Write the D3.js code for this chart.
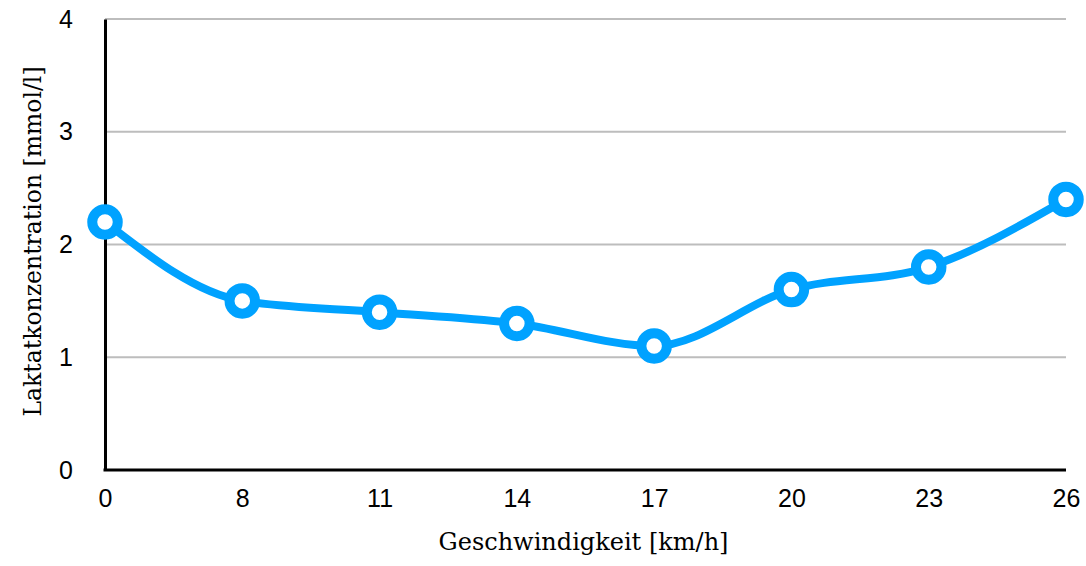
<!DOCTYPE html>
<html>
<head>
<meta charset="utf-8">
<script src="https://cdn.jsdelivr.net/npm/d3@7"></script>
<style>
  html, body { margin: 0; padding: 0; background: #fff; }
  svg { display: block; }
</style>
</head>
<body>
<svg id="chart" width="1086" height="566"></svg>
<script>
// Lactate concentration by running speed
const speeds = ["0", "8", "11", "14", "17", "20", "23", "26"];
const lactate = [2.2, 1.5, 1.4, 1.3, 1.1, 1.6, 1.8, 2.4];
const yTicks = [0, 1, 2, 3, 4];
const xTitle = "Geschwindigkeit [km/h]";
const yTitle = "Laktatkonzentration [mmol/l]";

const svg = d3.select("#chart");
const plotLeft = 105, plotRight = 1066, plotTop = 19, plotBottom = 470;

const x = d3.scalePoint().domain(speeds).range([plotLeft, plotRight]);
const y = d3.scaleLinear().domain([0, 4]).range([plotBottom, plotTop]);

const tickFont = "'Liberation Sans', Arial, Helvetica, sans-serif";
const titleFont = "'Palatino Linotype', Palatino, 'Book Antiqua', 'DejaVu Serif', serif";

// Horizontal grid lines
svg.append("g")
  .selectAll("line")
  .data(yTicks.filter(d => d > 0))
  .join("line")
  .attr("x1", plotLeft).attr("x2", plotRight)
  .attr("y1", d => y(d)).attr("y2", d => y(d))
  .attr("stroke", "#bdbdbd").attr("stroke-width", 2);

// Y axis
const yAxis = svg.append("g")
  .attr("transform", `translate(${plotLeft},0)`)
  .call(d3.axisLeft(y).tickValues(yTicks).tickFormat(d3.format("d")).tickSize(0).tickPadding(32));
yAxis.select(".domain").attr("stroke", "#000").attr("stroke-width", 3);
yAxis.selectAll("text").attr("font-family", tickFont).attr("font-size", 25).attr("fill", "#000");

// X axis
const xAxis = svg.append("g")
  .attr("transform", `translate(0,${plotBottom})`)
  .call(d3.axisBottom(x).tickSize(0).tickPadding(19));
xAxis.select(".domain").attr("stroke", "#000").attr("stroke-width", 3)
  .attr("d", `M${plotLeft - 1.5},0H${plotRight}`);
xAxis.selectAll("text").attr("font-family", tickFont).attr("font-size", 25).attr("fill", "#000");

// Axis titles
svg.append("text")
  .attr("x", 583.5).attr("y", 550)
  .attr("text-anchor", "middle")
  .attr("font-family", titleFont).attr("font-size", 24).attr("fill", "#000")
  .text(xTitle);

svg.append("text")
  .attr("transform", "translate(41,241.5) rotate(-90)")
  .attr("text-anchor", "middle")
  .attr("font-family", titleFont).attr("font-size", 23.5).attr("fill", "#000")
  .text(yTitle);

// Line and markers
const blue = "#00a2ff";
const line = d3.line()
  .x((d, i) => x(speeds[i]))
  .y(d => y(d))
  .curve(d3.curveMonotoneX);

svg.append("path")
  .datum(lactate)
  .attr("d", line)
  .attr("fill", "none")
  .attr("stroke", blue)
  .attr("stroke-width", 8)
  .attr("stroke-linejoin", "round");

svg.append("g")
  .selectAll("circle")
  .data(lactate)
  .join("circle")
  .attr("cx", (d, i) => x(speeds[i]))
  .attr("cy", d => y(d))
  .attr("r", 12.75)
  .attr("fill", "#fff")
  .attr("stroke", blue)
  .attr("stroke-width", 10);
</script>
</body>
</html>
